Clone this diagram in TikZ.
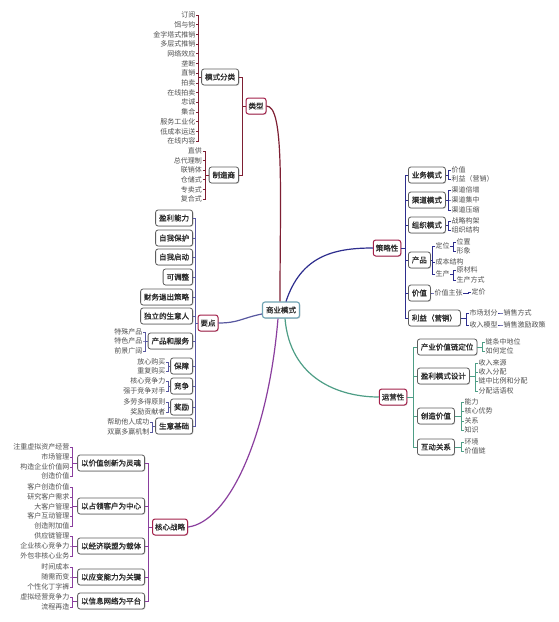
\documentclass[tikz,border=0pt]{standalone}
\usepackage{fontspec}
\newfontfamily\cjk{Noto Sans CJK SC}
\newfontfamily\cjkb[FakeBold=1.3]{Noto Sans CJK SC}
\usetikzlibrary{shadows}
\definecolor{leafc}{HTML}{505050}
\definecolor{txtc}{HTML}{2E2E2E}
\definecolor{boxc}{HTML}{5E5E5E}
\definecolor{redc}{HTML}{A3214A}
\definecolor{cenc}{HTML}{6FA3B3}
\definecolor{brA}{HTML}{7E1F33}
\definecolor{brB}{HTML}{5858A0}
\definecolor{brC}{HTML}{8A3E9E}
\definecolor{brD}{HTML}{2E2E8E}
\definecolor{brE}{HTML}{4E9E86}
\begin{document}
\begin{tikzpicture}[x=1pt,y=-1pt,
 leaf/.style={font=\cjk\fontsize{7}{8}\selectfont, text=leafc, inner sep=0.4pt},
 box/.style={draw=boxc, line width=0.8pt, rounded corners=2.5pt, fill=white,
   font=\cjkb\fontsize{7.5}{9}\selectfont, text=txtc, inner xsep=3.5pt, inner ysep=0pt,
   minimum height=16pt, drop shadow={shadow xshift=0.8pt, shadow yshift=-0.8pt, opacity=0.3}},
 mbox/.style={box, draw=redc, line width=1pt, inner xsep=2.5pt},
 cbox/.style={box, draw=cenc, line width=1.1pt},
 lnA/.style={draw=brA, line width=0.8pt},
 lnB/.style={draw=brB, line width=0.8pt},
 lnC/.style={draw=brC, line width=0.8pt},
 lnD/.style={draw=brD, line width=0.8pt},
 lnE/.style={draw=brE, line width=0.8pt},
 mainline/.style={line width=1.2pt}
]
\fill[white] (0,0) rectangle (558,622);
\useasboundingbox (0,0) rectangle (558,622);

% ---------- centre and main branches
\node[cbox] (cen) at (281,310) {商业模式};
\node[mbox] (lx) at (256,106) {类型};
\node[mbox] (yd) at (208,323) {要点};
\node[mbox] (hx) at (170,527) {核心战略};
\node[mbox] (clx) at (387,248) {策略性};
\node[mbox] (yyx) at (393,397) {运营性};

\draw[mainline, brA] ([xshift=-1pt]cen.north) .. controls +(0,-110) and +(18,0) .. (lx.east);
\draw[mainline, brD] ([xshift=5pt]cen.north) .. controls +(15,-45) and +(-40,0) .. (clx.west);
\draw[mainline, brB] ([yshift=-4pt]cen.west) .. controls +(-20,4) and +(20,0) .. (yd.east);
\draw[mainline, brC] ([xshift=-3pt]cen.south) .. controls +(-10,120) and +(40,-5) .. (hx.east);
\draw[mainline, brE] ([xshift=4pt]cen.south) .. controls +(5,60) and +(-40,0) .. (yyx.west);

% ---------- 类型
\node[box, anchor=east] (msfl) at (239,77) {模式分类};
\node[box, anchor=east] (zzs) at (239,175) {制造商};
\draw[lnA] (msfl.east) -- ++(3,0) |- (lx.west);
\draw[lnA] (zzs.east) -- ++(3,0) |- (lx.west);
\foreach \t [count=\i] in {订阅,饵与钩,金字塔式推销,多层式推销,网络效应,垄断,直销,拍卖,在线拍卖,忠诚,集合,服务工业化,低成本运送,在线内容}{
  \node[leaf, anchor=east] (ms\i) at (196,{15+9.7*(\i-1)}) {\t};
  \draw[lnA] (ms\i.east) -- ++(2.5,0) |- (msfl.west);
}
\foreach \t [count=\i] in {直供,总代理制,联销体,仓储式,专卖式,复合式}{
  \node[leaf, anchor=east] (zz\i) at (202.5,{151+9.6*(\i-1)}) {\t};
  \draw[lnA] (zz\i.east) -- ++(3,0) |- (zzs.west);
}

% ---------- 要点
\foreach \y/\t/\n in {218/盈利能力/a, 238/自我保护/b, 257/自我启动/c, 277/可调整/d, 297/财务退出策略/e, 316/独立的生意人/f, 341/产品和服务/g, 366/保障/h, 386/竞争/i, 407/奖励/j, 426/生意基础/k}{
  \node[box, anchor=east] (yd\n) at (193,\y) {\t};
  \draw[lnB] (yd\n.east) -- ++(2.5,0) |- (yd.west);
}
\foreach \y/\t [count=\i] in {332/特殊产品, 341/特色产品, 351/前景广阔}{
  \node[leaf, anchor=east] (ydg\i) at (143,\y) {\t};
  \draw[lnB] (ydg\i.east) -- ++(2.5,0) |- (ydg.west);
}
\foreach \y/\t [count=\i] in {362/放心购买, 371/重复购买}{
  \node[leaf, anchor=east] (ydh\i) at (166,\y) {\t};
  \draw[lnB] (ydh\i.east) -- ++(2.5,0) |- (ydh.west);
}
\foreach \y/\t [count=\i] in {381/核心竞争力, 391/强于竞争对手}{
  \node[leaf, anchor=east] (ydi\i) at (166,\y) {\t};
  \draw[lnB] (ydi\i.east) -- ++(2.5,0) |- (ydi.west);
}
\foreach \y/\t [count=\i] in {402/多劳多得原则, 412/奖励贡献者}{
  \node[leaf, anchor=east] (ydj\i) at (166,\y) {\t};
  \draw[lnB] (ydj\i.east) -- ++(2.5,0) |- (ydj.west);
}
\foreach \y/\t [count=\i] in {422/帮助他人成功, 432/双赢多赢机制}{
  \node[leaf, anchor=east] (ydk\i) at (150,\y) {\t};
  \draw[lnB] (ydk\i.east) -- ++(2.5,0) |- (ydk.west);
}

% ---------- 核心战略
\foreach \y/\t/\n in {463/以价值创新为灵魂/a, 506/以占领客户为中心/b, 546/以经济联盟为载体/c, 577/以应变能力为关键/d, 601/以信息网络为平台/e}{
  \node[box, anchor=east] (hx\n) at (145,\y) {\t};
  \draw[lnC] (hx\n.east) -- ++(3,0) |- (hx.west);
}
\foreach \y/\t [count=\i] in {447/注重虚拟资产经营, 457/市场管理, 467/构造企业价值网, 476/创造价值}{
  \node[leaf, anchor=east] (hxa\i) at (70,\y) {\t};
  \draw[lnC] (hxa\i.east) -- ++(2.5,0) |- (hxa.west);
}
\foreach \y/\t [count=\i] in {487/客户创造价值, 497/研究客户需求, 507/大客户管理, 516/客户互动管理, 526/创造附加值}{
  \node[leaf, anchor=east] (hxb\i) at (70,\y) {\t};
  \draw[lnC] (hxb\i.east) -- ++(2.5,0) |- (hxb.west);
}
\foreach \y/\t [count=\i] in {536/供应链管理, 546/企业核心竞争力, 556/外包非核心业务}{
  \node[leaf, anchor=east] (hxc\i) at (70,\y) {\t};
  \draw[lnC] (hxc\i.east) -- ++(2.5,0) |- (hxc.west);
}
\foreach \y/\t [count=\i] in {567/时间成本, 577/随需而变, 587/个性化丁字裤}{
  \node[leaf, anchor=east] (hxd\i) at (70,\y) {\t};
  \draw[lnC] (hxd\i.east) -- ++(2.5,0) |- (hxd.west);
}
\foreach \y/\t [count=\i] in {597/虚拟经营竞争力, 607/流程再造}{
  \node[leaf, anchor=east] (hxe\i) at (70,\y) {\t};
  \draw[lnC] (hxe\i.east) -- ++(2.5,0) |- (hxe.west);
}

% ---------- 策略性
\foreach \y/\t/\n in {175/业务模式/a, 200/渠道模式/b, 225/组织模式/c, 260/产品/d, 293/价值/e, 318/利益（营销）/f}{
  \node[box, anchor=west] (cl\n) at (408,\y) {\t};
  \draw[lnD] (cl\n.west) -- ++(-3,0) |- (clx.east);
}
\foreach \y/\t [count=\i] in {170/价值, 179/利益（营销）}{
  \node[leaf, anchor=west] (cla\i) at (451,\y) {\t};
  \draw[lnD] (cla\i.west) -- ++(-2.5,0) |- (cla.east);
}
\foreach \y/\t [count=\i] in {190/渠道倍增, 200/渠道集中, 210/渠道压缩}{
  \node[leaf, anchor=west] (clb\i) at (451,\y) {\t};
  \draw[lnD] (clb\i.west) -- ++(-2.5,0) |- (clb.east);
}
\foreach \y/\t [count=\i] in {221/战略构架, 230/组织结构}{
  \node[leaf, anchor=west] (clc\i) at (451,\y) {\t};
  \draw[lnD] (clc\i.west) -- ++(-2.5,0) |- (clc.east);
}
\foreach \y/\t [count=\i] in {246/定位, 262/成本结构, 274/生产}{
  \node[leaf, anchor=west] (cld\i) at (435,\y) {\t};
  \draw[lnD] (cld\i.west) -- ++(-2.5,0) |- (cld.east);
}
\foreach \y/\t [count=\i] in {242/位置, 251/形象}{
  \node[leaf, anchor=west] (cldw\i) at (456,\y) {\t};
  \draw[lnD] (cldw\i.west) -- ++(-2.5,0) |- (cld1.east);
}
\foreach \y/\t [count=\i] in {270/原材料, 280/生产方式}{
  \node[leaf, anchor=west] (clds\i) at (456,\y) {\t};
  \draw[lnD] (clds\i.west) -- ++(-2.5,0) |- (cld3.east);
}
\node[leaf, anchor=west] (cle1) at (434,293) {价值主张};
\draw[lnD] (cle1.west) -- ++(-2.5,0) |- (cle.east);
\node[leaf, anchor=west] (cle2) at (471,292) {定价};
\draw[lnD] (cle2.west) -- ++(-2.5,0) |- (cle1.east);
\node[leaf, anchor=west] (clf1) at (469,313) {市场划分};
\node[leaf, anchor=west] (clf2) at (469,325) {收入模型};
\draw[lnD] (clf1.west) -- ++(-3,0) |- (clf.east);
\draw[lnD] (clf2.west) -- ++(-3,0) |- (clf.east);
\node[leaf, anchor=west] (clf3) at (503,313) {销售方式};
\node[leaf, anchor=west] (clf4) at (503,325) {销售激励政策};
\draw[lnD] (clf3.west) -- ++(-2.5,0) |- (clf1.east);
\draw[lnD] (clf4.west) -- ++(-2.5,0) |- (clf2.east);

% ---------- 运营性
\foreach \y/\t/\n in {347/产业价值链定位/a, 376/盈利模式设计/b, 416/创造价值/c, 447/互动关系/d}{
  \node[box, anchor=west] (yy\n) at (417,\y) {\t};
  \draw[lnE] (yy\n.west) -- ++(-3.5,0) |- (yyx.east);
}
\foreach \y/\t [count=\i] in {342/链条中地位, 351/如何定位}{
  \node[leaf, anchor=west] (yya\i) at (485,\y) {\t};
  \draw[lnE] (yya\i.west) -- ++(-3,0) |- (yya.east);
}
\foreach \y/\t [count=\i] in {363/收入来源, 372/收入分配, 381/链中比例和分配, 391/分配话语权}{
  \node[leaf, anchor=west] (yyb\i) at (478,\y) {\t};
  \draw[lnE] (yyb\i.west) -- ++(-3,0) |- (yyb.east);
}
\foreach \y/\t [count=\i] in {402/能力, 411/核心优势, 421/关系, 430/知识}{
  \node[leaf, anchor=west] (yyc\i) at (464,\y) {\t};
  \draw[lnE] (yyc\i.west) -- ++(-3,0) |- (yyc.east);
}
\foreach \y/\t [count=\i] in {442/环境, 451/价值链}{
  \node[leaf, anchor=west] (yyd\i) at (464,\y) {\t};
  \draw[lnE] (yyd\i.west) -- ++(-3,0) |- (yyd.east);
}
\end{tikzpicture}
\end{document}
